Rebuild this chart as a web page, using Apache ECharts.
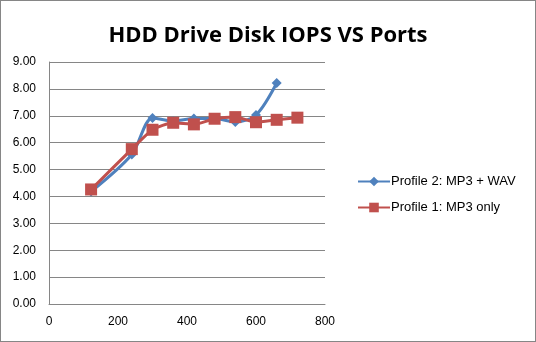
<!DOCTYPE html>
<html><head><meta charset="utf-8">
<script src="https://cdn.jsdelivr.net/npm/echarts@6/dist/echarts.min.js"></script>
<style>html,body{margin:0;padding:0;background:#fff}#c{width:536px;height:342px;box-sizing:border-box;border:1px solid #868686}</style>
</head><body><div id="c"></div>
<script>
const title = 'HDD Drive Disk IOPS VS Ports';
const seriesNames = ['Profile 2: MP3 + WAV', 'Profile 1: MP3 only'];
const portsP2 = [122, 240, 300, 360, 420, 480, 540, 600, 660];
const iopsP2 = [4.18, 5.56, 6.92, 6.80, 6.90, 6.90, 6.77, 7.03, 8.22];
const portsP1 = [122, 240, 300, 360, 420, 480, 540, 600, 660, 720];
const iopsP1 = [4.26, 5.76, 6.48, 6.74, 6.68, 6.89, 6.95, 6.76, 6.85, 6.93];

const chart = echarts.init(document.getElementById('c'), null, {renderer: 'canvas'});
const font = 'Liberation Sans, Arial, sans-serif';
chart.setOption({
  animation: false,
  title: {text: title, left: 'center', top: 19, textStyle: {fontFamily: 'Open Sans', fontWeight: 'bold', fontSize: 22, color: '#000'}},
  grid: {left: 48, right: 210, top: 61, bottom: 37},
  legend: {
    orient: 'vertical', left: 351, top: 169, itemWidth: 32, itemHeight: 12, itemGap: 13,
    textStyle: {fontFamily: font, fontSize: 13, color: '#000', padding: [0, 0, 0, -4]},
    data: seriesNames
  },
  xAxis: {
    type: 'value', min: 0, max: 800, interval: 200,
    axisLine: {lineStyle: {color: '#868686'}}, axisTick: {show: false},
    splitLine: {show: false},
    axisLabel: {fontFamily: font, fontSize: 12, color: '#000', margin: 12}
  },
  yAxis: {
    type: 'value', min: 0, max: 9, interval: 1,
    axisLine: {show: true, lineStyle: {color: '#868686'}}, axisTick: {show: false},
    splitLine: {lineStyle: {color: '#868686'}},
    axisLabel: {fontFamily: font, fontSize: 12, color: '#000', margin: 13, formatter: v => v.toFixed(2)}
  },
  series: [
    {name: seriesNames[0], type: 'line', smooth: 0.3, data: portsP2.map((x, i) => [x, iopsP2[i]]),
     symbol: 'diamond', symbolSize: 10, color: '#4F81BD', lineStyle: {width: 3, color: '#4F81BD'},
     itemStyle: {color: '#4F81BD'}},
    {name: seriesNames[1], type: 'line', smooth: 0.2, data: portsP1.map((x, i) => [x, iopsP1[i]]),
     symbol: 'rect', symbolSize: 12, color: '#C0504D', lineStyle: {width: 3, color: '#C0504D'},
     itemStyle: {color: '#C0504D'}}
  ]
});
</script></body></html>
